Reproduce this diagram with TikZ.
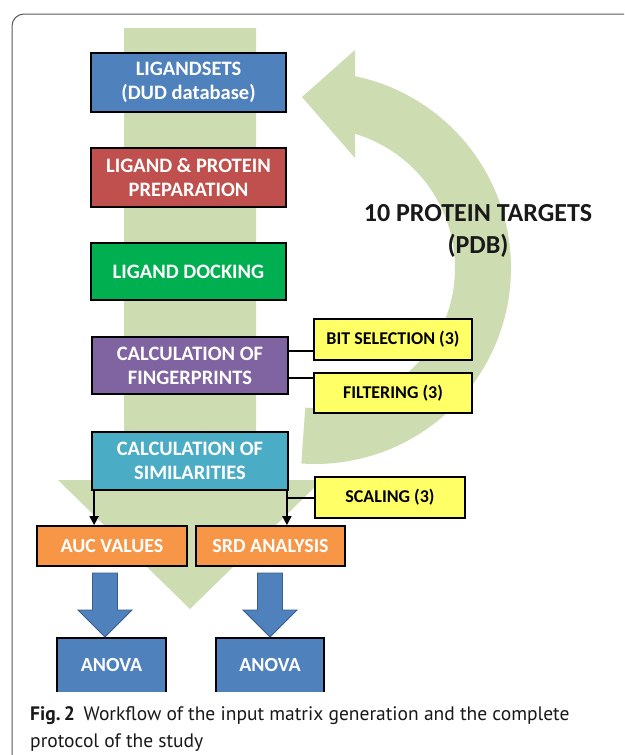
\documentclass[tikz,border=0pt]{standalone}
\usepackage{fontspec}
\setmainfont{Carlito}
\newfontfamily\capfont{PT Sans}
\usetikzlibrary{arrows.meta}
\definecolor{bandgreen}{RGB}{206,220,178}
\definecolor{bxblue}{RGB}{79,129,189}
\definecolor{bxred}{RGB}{192,80,77}
\definecolor{bxgreen}{RGB}{0,176,80}
\definecolor{bxpurple}{RGB}{128,100,162}
\definecolor{bxcyan}{RGB}{75,172,198}
\definecolor{bxorange}{RGB}{247,150,70}
\definecolor{bxyellow}{RGB}{255,255,102}
\definecolor{arrowedge}{RGB}{56,93,138}
\definecolor{framegray}{RGB}{90,90,90}
\begin{document}
\begin{tikzpicture}[x=1pt,y=-1pt,
  box/.style={draw=black, line width=1.8pt, inner sep=0pt, align=center, text=white, font=\bfseries\fontsize{20.5}{24}\selectfont},
  ybox/.style={draw=black, line width=1.8pt, fill=bxyellow, inner sep=0pt, text=black, font=\bfseries\fontsize{18}{21}\selectfont},
  conn/.style={line width=2pt, draw=black},
  arr/.style={conn, -{Triangle[width=9pt,length=9pt]}},
  barrow/.pic={\filldraw[fill=bxblue, draw=arrowedge, line width=0.8pt]
     (-12.5,0) -- (12.5,0) -- (12.5,37) -- (27,37) -- (0,64) -- (-27,37) -- (-12.5,37) -- cycle;},
  captext/.style={anchor=base west, inner sep=0pt, text=black!90, font=\capfont\fontsize{19.5}{27}\selectfont}
]
\useasboundingbox (0,0) rectangle (624,755);
\fill[white] (0,0) rectangle (624,755);
% frame
\draw[framegray, line width=1pt, rounded corners=12pt] (12,755) -- (12,14) -- (624,14);
% big green down arrow
\fill[bandgreen] (124,28) -- (256,28) -- (256,480) -- (322,480) -- (190,609) -- (58,480) -- (124,480) -- cycle;
% curved green arrow
\begin{scope}[shift={(315,268)}]
\fill[bandgreen] plot[domain=94:-78.2, samples=90] ({196*cos(\x)},{196*sin(\x)})
  -- (40,-218) -- (-13,-171) -- (40,-110)
  -- plot[domain=-73.4:94, samples=90] ({140*cos(\x)},{140*sin(\x)}) -- cycle;
\end{scope}
\node[font=\bfseries\fontsize{26}{32}\selectfont, align=center, text=black!90] (targets) at (478,231) {10 PROTEIN TARGETS\\(PDB)};
% main boxes
\node[box, fill=bxblue, minimum width=195pt, minimum height=59pt] (lig) at (188.5,82.5) {LIGANDSETS\\(DUD database)};
\node[box, fill=bxred, minimum width=195pt, minimum height=59pt] (prep) at (188.5,177.5) {LIGAND \& PROTEIN\\PREPARATION};
\node[box, fill=bxgreen, minimum width=195pt, minimum height=57pt] (dock) at (188.5,271.5) {LIGAND DOCKING};
\node[box, fill=bxpurple, minimum width=196pt, minimum height=57pt] (fp) at (190,365.5) {CALCULATION OF\\FINGERPRINTS};
\node[box, fill=bxcyan, minimum width=196pt, minimum height=58pt] (sim) at (190,461) {CALCULATION OF\\SIMILARITIES};
% yellow boxes
\node[ybox, minimum width=158pt, minimum height=41pt] (bit) at (393,339.5) {BIT SELECTION (3)};
\node[ybox, minimum width=158pt, minimum height=40pt] (filt) at (393,393) {FILTERING (3)};
\node[ybox, minimum width=150pt, minimum height=41pt] (scal) at (390,497.5) {SCALING (3)};
% orange boxes
\node[box, fill=bxorange, minimum width=150pt, minimum height=40pt, font=\bfseries\fontsize{20}{24}\selectfont] (auc) at (112,546) {AUC VALUES};
\node[box, fill=bxorange, minimum width=149pt, minimum height=40pt, font=\bfseries\fontsize{20}{24}\selectfont] (srd) at (270.5,546) {SRD ANALYSIS};
% anova boxes (bottom cut by caption)
\node[fill=bxblue, minimum width=109pt, minimum height=54pt, inner sep=0pt, text=white, font=\bfseries\fontsize{20}{24}\selectfont] (an1) at (111.5,665) {ANOVA};
\node[fill=bxblue, minimum width=108pt, minimum height=54pt, inner sep=0pt, text=white, font=\bfseries\fontsize{20}{24}\selectfont] (an2) at (270,665) {ANOVA};
\draw[line width=1.8pt] (an1.south west) -- (an1.north west) -- (an1.north east) -- (an1.south east);
\draw[line width=1.8pt] (an2.south west) -- (an2.north west) -- (an2.north east) -- (an2.south east);
% connectors
\draw[conn] ([yshift=14.5pt]fp.east) -- ([yshift=14.5pt]fp.east -| bit.west);
\draw[conn] ([yshift=-12.5pt]fp.east) -- ([yshift=-12.5pt]fp.east -| filt.west);
\coordinate (sl) at ([xshift=3pt]sim.south west);
\coordinate (sr) at ([xshift=-2pt]sim.south east);
\draw[arr] (sl) -- (sl |- auc.north);
\draw[arr] (sr) -- (sr |- srd.north);
\draw[conn] (scal.west) -- (scal.west -| sr);
% block arrows
\pic at (105,573) {barrow};
\pic at (270,573) {barrow};
% caption
\node[captext] (cap1) at (30,720) {\textbf{Fig.\,2}\hspace{0.45em}Workflow of the input matrix generation and the complete};
\node[captext] (cap2) at (30,747) {protocol of the study};
\end{tikzpicture}
\end{document}
